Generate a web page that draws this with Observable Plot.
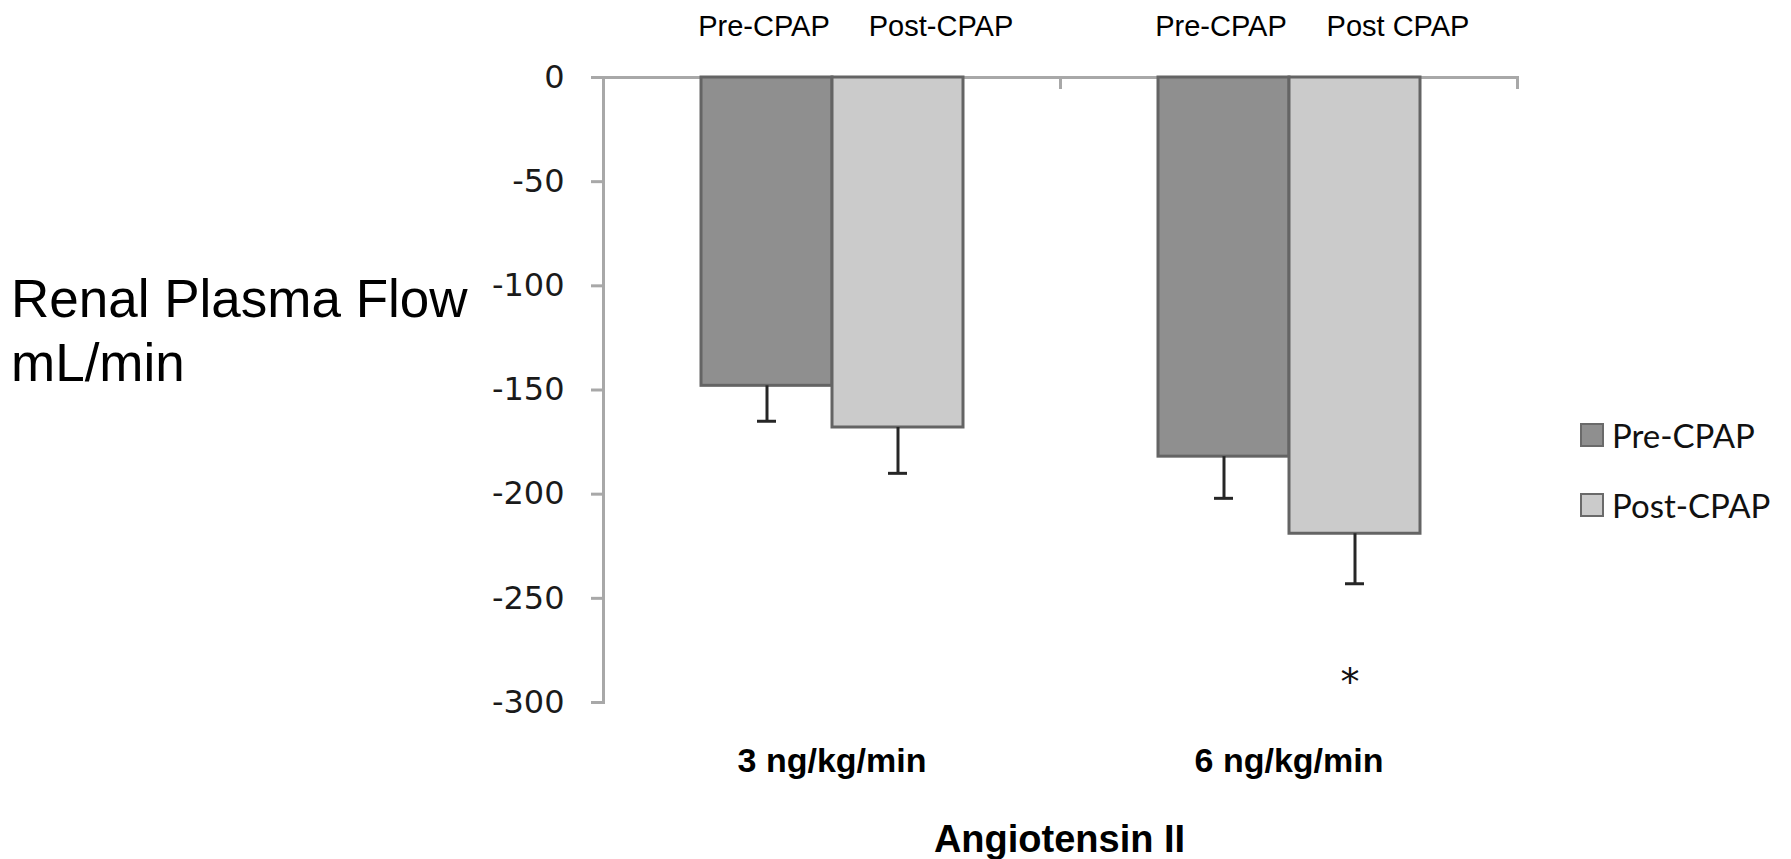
<!DOCTYPE html>
<html>
<head>
<meta charset="utf-8">
<script src="https://cdn.jsdelivr.net/npm/d3@7"></script>
<script src="https://cdn.jsdelivr.net/npm/@observablehq/plot@0.6"></script>
<style>
  html, body { margin: 0; padding: 0; background: #fff; }
  #wrap { position: relative; width: 1791px; height: 859px; overflow: hidden; }
  #ylabel { position: absolute; left: 11px; top: 267px; font-family: "Liberation Sans", Arial, sans-serif; font-size: 53px; line-height: 64px; color: #000; white-space: nowrap; }
  #legend { position: absolute; left: 1580px; top: 419px; font-family: Lato, "Open Sans", sans-serif; font-size: 33px; color: #111; }
  #legend .item { display: flex; align-items: center; height: 32px; margin-bottom: 38px; }
  #legend .sw { width: 20px; height: 20px; border: 2px solid #6a6a6a; margin-right: 8px; box-sizing: content-box; }
  #xtitle { text-align: center; font-family: "Liberation Sans", Arial, sans-serif; font-weight: bold; font-size: 38px; padding-left: 328px; width: 1463px; line-height: 44px; margin-top: 2px; }
</style>
</head>
<body>
<div id="wrap">
  <div id="chart"></div>
  <div id="xtitle"></div>
  <div id="ylabel"></div>
  <div id="legend"></div>
</div>
<script>
// ---- data ----
const doses = ["3 ng/kg/min", "6 ng/kg/min"];
const conditions = ["Pre-CPAP", "Post-CPAP"];
const preValues = [-148, -182];
const postValues = [-168, -219];
const preErr = [17, 20];
const postErr = [22, 24];
const preLabels = ["Pre-CPAP", "Pre-CPAP"];
const postLabels = ["Post-CPAP", "Post CPAP"];
const yTicks = [0, -50, -100, -150, -200, -250, -300];
const sigDose = ["6 ng/kg/min"];
const sigCond = ["Post-CPAP"];
const sigY = [-286];
const yTitle = ["Renal Plasma Flow", "mL/min"];
const xTitle = "Angiotensin II";
const colors = ["#8f8f8f", "#cbcbcb"];

// ---- build rows ----
const rows = doses.flatMap((d, i) => [
  {dose: d, cond: conditions[0], value: preValues[i], err: preErr[i], label: preLabels[i]},
  {dose: d, cond: conditions[1], value: postValues[i], err: postErr[i], label: postLabels[i]}
]);
const sig = sigDose.map((d, i) => ({dose: d, cond: sigCond[i], y: sigY[i]}));

const W = 1791, H = 815, mT = 77, mB = 113, mL = 602, mR = 274;
const frameH = H - mT - mB;
const axisGray = "#a8a8a8";

const chart = Plot.plot({
  width: W, height: H,
  marginTop: mT, marginBottom: mB, marginLeft: mL, marginRight: mR,
  style: {background: "white", fontFamily: "'Liberation Sans', Arial, sans-serif", overflow: "visible"},
  fx: {domain: doses, padding: 0, axis: null},
  x: {domain: conditions, paddingInner: 0, paddingOuter: 0.74, axis: null},
  y: {domain: [-300, 0], axis: null},
  color: {domain: conditions, range: colors},
  marks: [
    Plot.ruleY([0], {stroke: axisGray, strokeWidth: 3}),
    Plot.frame({anchor: "right", stroke: axisGray, strokeWidth: 3, insetBottom: frameH - 10}),
    Plot.barY(rows, {fx: "dose", x: "cond", y: "value", fill: "cond", stroke: "#646464", strokeWidth: 3}),
    Plot.ruleX(rows, {fx: "dose", x: "cond", y1: "value", y2: d => d.value - d.err, stroke: "#262626", strokeWidth: 3}),
    Plot.tickY(rows, {fx: "dose", x: "cond", y: d => d.value - d.err, stroke: "#262626", strokeWidth: 3, insetLeft: 56, insetRight: 56}),
    Plot.frame({anchor: "left", facetAnchor: "left", stroke: axisGray, strokeWidth: 3}),
    Plot.axisY({ticks: yTicks, tickSize: 12, tickPadding: 27, tickFormat: d => String(d),
      stroke: axisGray, strokeWidth: 3, fill: "#1a1a1a", fontSize: 32,
      fontFamily: "'DejaVu Sans', Verdana, sans-serif", label: null}),
    Plot.text(rows.filter(d => d.cond === conditions[0]), {fx: "dose", x: "cond", text: "label",
      frameAnchor: "top", dy: -62, dx: -3, fontSize: 29, fill: "#000"}),
    Plot.text(rows.filter(d => d.cond === conditions[1]), {fx: "dose", x: "cond", text: "label",
      frameAnchor: "top", dy: -62, dx: 43, fontSize: 29, fill: "#000"}),
    Plot.text(doses, {fx: d => d, text: d => d, frameAnchor: "bottom", dy: 69,
      fontSize: 34, fontWeight: "bold", fill: "#000"}),
    Plot.text(sig, {fx: "dose", x: "cond", y: "y", text: () => "*", dx: -5, dy: 9,
      fontSize: 38, fill: "#111", fontFamily: "'DejaVu Sans', sans-serif"})
  ]
});
document.getElementById("chart").appendChild(chart);
document.getElementById("xtitle").textContent = xTitle;
document.getElementById("ylabel").innerHTML = yTitle.map(t => `<div>${t}</div>`).join("");
document.getElementById("legend").innerHTML = conditions.map((c, i) =>
  `<div class="item"><span class="sw" style="background:${colors[i]}"></span><span>${c}</span></div>`).join("");
</script>
</body>
</html>
